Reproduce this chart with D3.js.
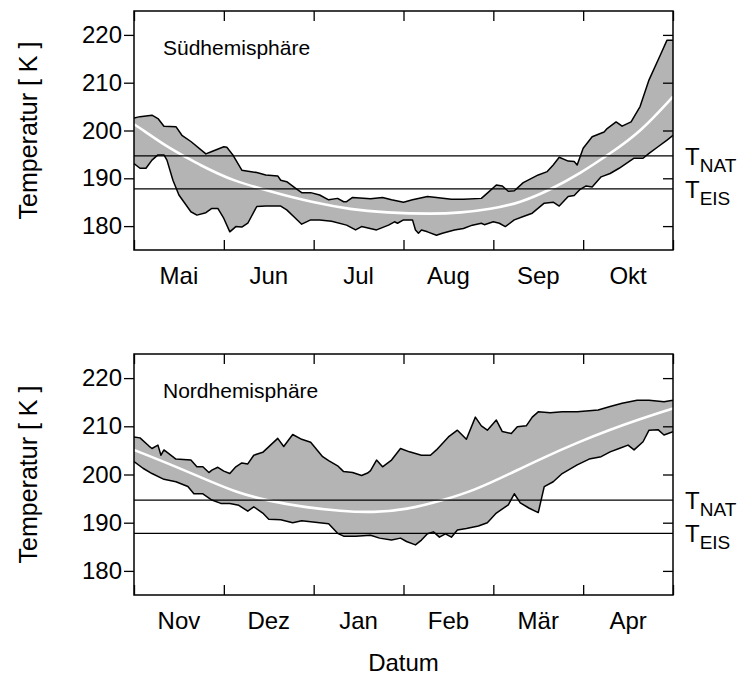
<!DOCTYPE html>
<html><head><meta charset="utf-8">
<script src="https://cdn.jsdelivr.net/npm/d3@7"></script>
<style>
html,body{margin:0;padding:0;background:#fff;}
svg{display:block;}
svg text{font-family:"Liberation Sans",Arial,Helvetica,sans-serif;}
</style></head>
<body><svg id="chart" width="737" height="675"></svg>
<script>
// ---- data (x = day since start of the 6-month window, 30 days per month) ----
const monthsSouth = ["Mai","Jun","Jul","Aug","Sep","Okt"];
const monthsNorth = ["Nov","Dez","Jan","Feb","Mär","Apr"];
const monthBounds = [0,30,60,90,120,150,180];
const yTicks = [180,190,200,210,220];
const T_NAT = 194.7, T_EIS = 187.8;

const southUpper = [[0,202.6],[2,202.9],[6,203.2],[8,202.5],[10,200.9],[14,200.8],[16,199],[19,197.7],[24,195.1],[26,195.6],[30,196.6],[31,196.5],[33,194.9],[36,191.7],[41,191.2],[44,190.7],[48,190.5],[49,189.6],[51,189.3],[54,187.9],[56,187],[59,187],[62,186.5],[65,185.5],[68,185.8],[70,185.1],[71,185.1],[73,186],[79,185.7],[83,186],[86,185.5],[90,185],[93,185.5],[98,186.2],[101,186],[106,185.6],[110,185.6],[116,185.8],[118,186.9],[121,188.6],[123,188.4],[125,187.3],[127,187.4],[130,189.1],[135,190.7],[138,191.4],[140,192.8],[142,194.4],[145,193.6],[147,193.5],[148,192.8],[150,196.3],[153,198.7],[157,199.7],[158,200.4],[161,201.8],[163,200.9],[166,201.8],[169,205],[172,210.6],[176,216.1],[178,218.9],[180,218.9]];
const southLower = [[0,193.1],[2,192.1],[4,192.1],[6,193.8],[8,194.9],[10,194.9],[11,193.8],[13,189.6],[15,186.5],[19,183],[21,182.3],[24,182.8],[26,183.7],[28,183.7],[30,181.6],[32,178.8],[34,179.9],[36,179.8],[38,180.6],[41,184.1],[44,184.2],[49,184.2],[51,183.4],[54,181.6],[56,180.4],[59,181.3],[62,181.3],[66,181],[71,180.2],[74,179.2],[76,179.9],[81,179.2],[85,180.2],[87,180.9],[88,180.6],[90,181.3],[93,181.3],[94,179.2],[95,178.5],[96,179.2],[98,178.8],[101,178.1],[103,178.5],[107,179.2],[110,179.5],[113,180.2],[116,180.6],[117,180.3],[120,180.9],[122,180.6],[124,179.9],[127,181.3],[130,182],[133,182.7],[137,184.8],[140,185],[142,184.2],[145,186.2],[147,186.4],[149,187.7],[151,188.4],[153,188.2],[156,190.3],[159,191],[162,192.1],[167,194.2],[170,194.2],[172,195.2],[175,196.6],[178,198],[180,199]];
const southMean = [[0,201.3],[3,200.1],[11,196.6],[18,194.2],[22,192.8],[28,191],[33,189.6],[43,187.7],[50,186.5],[61,184.8],[72,183.5],[84,182.8],[100,182.5],[109,182.8],[119,183.5],[129,184.9],[139,187.6],[149,191],[159,195.2],[169,199.6],[180,207.1]];

const northUpper = [[0,207.8],[2,207.6],[5,205.9],[6,205.4],[8,206.1],[9,204],[10,205.1],[14,203.2],[19,203],[21,201.6],[23,201.6],[25,200.4],[26,200.9],[28,201.5],[30,200.7],[32,200.2],[34,201.6],[36,202.4],[38,202.2],[40,204],[43,204.6],[48,207.5],[50,205.8],[53,208.3],[56,207.3],[59,206.7],[63,203.7],[65,202.9],[68,201.8],[70,200.6],[73,200.4],[76,199.8],[78,200.3],[79,200.8],[81,203],[83,201.6],[86,203],[89,205.4],[92,204.7],[96,204],[99,204],[101,205.1],[105,207.8],[108,209.2],[111,207.3],[114,211.9],[116,210.1],[118,209.2],[121,211.3],[123,208.9],[126,208.5],[128,209.9],[131,210.1],[133,211.9],[135,213],[139,212.8],[143,213],[148,213],[155,213.4],[159,214.1],[163,214.8],[168,215.4],[172,215.4],[177,215.1],[180,215.4]];
const northLower = [[0,202.7],[3,201.3],[6,200.2],[10,199],[14,198.5],[18,197.5],[20,196],[23,196],[26,194.7],[29,194],[32,194],[35,193.6],[38,192.4],[40,193.3],[43,192],[45,190.7],[49,190.6],[53,190],[56,190.4],[62,190],[65,189.8],[68,187.8],[70,187.2],[74,187.2],[79,187.4],[82,186.8],[86,186.4],[89,186.8],[91,186.1],[94,185.4],[96,186.4],[98,187.7],[100,188.1],[102,187],[104,187.7],[106,187],[108,188.5],[111,188.8],[115,189.3],[118,190],[121,192],[125,193.7],[127,196],[129,194.1],[132,193],[135,192.1],[137,197.5],[140,198.5],[143,200.2],[148,202],[152,203.2],[156,203.7],[159,204.7],[162,205.4],[165,206.1],[167,205.1],[170,206.8],[172,209.2],[175,209.3],[177,208.2],[180,208.9]];
const northMean = [[0,205.1],[11,202.4],[22,199.5],[34,196.3],[45,194.5],[57,193.2],[69,192.4],[80,192.1],[91,192.7],[103,194.6],[114,196.8],[125,200],[136,203.3],[148,206.6],[159,209.3],[169,211.5],[180,213.7]];

// ---- drawing ----
const svg = d3.select("#chart");
const FONT = '"Liberation Sans", Arial, Helvetica, sans-serif';
const left = 134, right = 673;
const x = d3.scaleLinear().domain([0,180]).range([left,right]);

function panel(top, bottom, months, upper, lower, mean, label, id) {
  const y = d3.scaleLinear().domain([175,225]).range([bottom, top]);
  const g = svg.append("g");
  g.append("clipPath").attr("id","clip"+id).append("rect")
    .attr("x",left).attr("y",top).attr("width",right-left).attr("height",bottom-top);
  const line = d3.line().x(d=>x(d[0])).y(d=>y(d[1]));
  const poly = upper.concat(lower.slice().reverse());
  const pg = g.append("g").attr("clip-path","url(#clip"+id+")");
  pg.append("path").attr("d", line(poly)+"Z").attr("fill","#b4b4b4").attr("stroke","none");
  pg.append("path").attr("d", line(upper)).attr("fill","none").attr("stroke","#000").attr("stroke-width",1.5).attr("stroke-linejoin","round");
  pg.append("path").attr("d", line(lower)).attr("fill","none").attr("stroke","#000").attr("stroke-width",1.5).attr("stroke-linejoin","round");
  const ml = d3.line().x(d=>x(d[0])).y(d=>y(d[1])).curve(d3.curveBasis);
  pg.append("path").attr("d", ml(mean)).attr("fill","none").attr("stroke","#fff").attr("stroke-width",2.6);
  // threshold lines
  [T_NAT, T_EIS].forEach(v => {
    g.append("line").attr("x1",left).attr("x2",right).attr("y1",y(v)).attr("y2",y(v))
      .attr("stroke","#000").attr("stroke-width",1.3);
  });
  // frame
  g.append("rect").attr("x",left).attr("y",top).attr("width",right-left).attr("height",bottom-top)
    .attr("fill","none").attr("stroke","#000").attr("stroke-width",1.5);
  // left axis (outward ticks)
  const ax = g.append("g").attr("transform",`translate(${left},0)`)
    .call(d3.axisLeft(y).tickValues(yTicks).tickSize(10).tickPadding(2).tickFormat(d3.format("d")));
  ax.attr("font-family",FONT).attr("font-size",24);
  ax.select(".domain").remove();
  ax.selectAll("line").attr("stroke","#000").attr("stroke-width",1.3);
  ax.selectAll("text").attr("fill","#000");
  // right axis (inward ticks)
  const ar = g.append("g").attr("transform",`translate(${right},0)`)
    .call(d3.axisRight(y).tickValues(yTicks).tickSize(-10).tickFormat(""));
  ar.select(".domain").remove();
  ar.selectAll("line").attr("stroke","#000").attr("stroke-width",1.3);
  // bottom axis (inward ticks)
  const ab = g.append("g").attr("transform",`translate(0,${bottom})`)
    .call(d3.axisBottom(x).tickValues(monthBounds).tickSize(-10).tickFormat(""));
  ab.select(".domain").remove();
  ab.selectAll("line").attr("stroke","#000").attr("stroke-width",1.3);
  const at = g.append("g").attr("transform",`translate(0,${top})`)
    .call(d3.axisTop(x).tickValues(monthBounds).tickSize(-10).tickFormat(""));
  at.select(".domain").remove();
  at.selectAll("line").attr("stroke","#000").attr("stroke-width",1.3);
  // month labels centred in each month
  g.selectAll("text.month").data(months).enter().append("text")
    .attr("class","month").attr("x",(d,i)=>x(monthBounds[i]+15)).attr("y",bottom+34)
    .attr("text-anchor","middle").attr("font-size",24).text(d=>d);
  // panel label
  g.append("text").attr("x",163).attr("y",top+44).attr("font-size",21).text(label);
  // y title
  g.append("text").attr("transform",`translate(37,${(top+bottom)/2}) rotate(-90)`)
    .attr("text-anchor","middle").attr("font-size",25).text("Temperatur [ K ]");
  // threshold labels
  const tl = [["NAT",T_NAT],["EIS",T_EIS]];
  tl.forEach(([s,v]) => {
    const t = g.append("text").attr("x",685).attr("y",y(v)+9).attr("font-size",24);
    t.append("tspan").text("T");
    t.append("tspan").attr("dy",7).attr("font-size",19).text(s);
  });
}

panel(11, 250, monthsSouth, southUpper, southLower, southMean, "Südhemisphäre", "s");
panel(354, 595, monthsNorth, northUpper, northLower, northMean, "Nordhemisphäre", "n");

svg.append("text").attr("x",(left+right)/2).attr("y",671).attr("text-anchor","middle")
  .attr("font-size",24).text("Datum");
</script>
</body></html>
